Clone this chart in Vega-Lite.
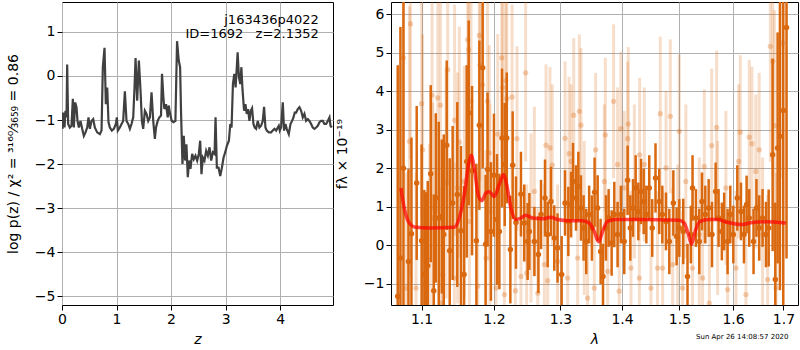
{
"$schema": "https://vega.github.io/schema/vega-lite/v6.json",
"padding": {"left": 5, "top": 1, "right": 1, "bottom": 0},
"bounds": "flush",
"spacing": 58,
"config": {
  "font": "DejaVu Sans",
  "view": {"stroke": "black", "strokeWidth": 1},
  "axis": {"domain": false, "grid": true, "gridColor": "#b0b0b0", "gridWidth": 1, "tickColor": "black", "tickSize": 5, "labelFontSize": 14, "labelColor": "black", "titleFontSize": 14, "titleFontWeight": "normal", "titleColor": "black", "labelPadding": 2, "labelFlush": false}
},
"title": {"text": "Sun Apr 26 14:08:57 2020", "orient": "bottom", "anchor": "end", "fontSize": 7, "fontWeight": "normal", "offset": -14, "dx": -10, "color": "black"},
"datasets": {
"pz": [
{"z":0.009,"lp":-1.20},{"z":0.021,"lp":-0.83},{"z":0.046,"lp":-1.17},{"z":0.064,"lp":-0.79},{"z":0.083,"lp":-0.94},{"z":0.095,"lp":0.26},{"z":0.113,"lp":-1.09},{"z":0.144,"lp":-1.17},{"z":0.174,"lp":-1.13},{"z":0.199,"lp":-0.52},{"z":0.217,"lp":-1.17},{"z":0.242,"lp":-0.60},{"z":0.266,"lp":-0.71},{"z":0.284,"lp":-1.02},{"z":0.309,"lp":-1.17},{"z":0.339,"lp":-1.02},{"z":0.370,"lp":-1.20},{"z":0.401,"lp":-1.36},{"z":0.431,"lp":-1.28},{"z":0.462,"lp":-1.17},{"z":0.486,"lp":-0.94},{"z":0.511,"lp":-1.20},{"z":0.541,"lp":-1.02},{"z":0.572,"lp":-0.98},{"z":0.602,"lp":-1.17},{"z":0.645,"lp":-1.28},{"z":0.694,"lp":-1.32},{"z":0.725,"lp":-1.24},{"z":0.749,"lp":0.20},{"z":0.780,"lp":0.64},{"z":0.804,"lp":-0.64},{"z":0.829,"lp":-0.26},{"z":0.853,"lp":-1.05},{"z":0.878,"lp":-1.17},{"z":0.914,"lp":-1.24},{"z":0.951,"lp":-1.20},{"z":0.988,"lp":-1.09},{"z":1.006,"lp":-0.94},{"z":1.024,"lp":-1.24},{"z":1.061,"lp":-1.17},{"z":1.092,"lp":-1.09},{"z":1.122,"lp":-1.02},{"z":1.153,"lp":-0.35},{"z":1.183,"lp":-1.02},{"z":1.214,"lp":-1.09},{"z":1.245,"lp":-1.20},{"z":1.275,"lp":-1.09},{"z":1.306,"lp":-0.94},{"z":1.330,"lp":-0.26},{"z":1.349,"lp":0.41},{"z":1.379,"lp":-0.56},{"z":1.410,"lp":0.35},{"z":1.440,"lp":-0.33},{"z":1.465,"lp":-1.02},{"z":1.489,"lp":-1.20},{"z":1.520,"lp":-0.79},{"z":1.550,"lp":-0.86},{"z":1.581,"lp":-1.02},{"z":1.612,"lp":-0.94},{"z":1.642,"lp":-0.37},{"z":1.673,"lp":-1.02},{"z":1.703,"lp":-1.43},
{"z":1.724,"lp":-1.17},{"z":1.755,"lp":-1.02},{"z":1.785,"lp":-0.94},{"z":1.816,"lp":-0.90},{"z":1.834,"lp":0.05},{"z":1.859,"lp":-0.48},{"z":1.877,"lp":-0.75},{"z":1.908,"lp":-0.64},{"z":1.939,"lp":-0.94},{"z":1.957,"lp":-0.67},{"z":1.982,"lp":-0.86},{"z":2.012,"lp":-1.02},{"z":2.043,"lp":-1.05},{"z":2.080,"lp":-1.02},{"z":2.110,"lp":0.79},{"z":2.141,"lp":0.35},{"z":2.166,"lp":0.20},{"z":2.184,"lp":-0.86},{"z":2.209,"lp":-2.00},{"z":2.233,"lp":-1.36},{"z":2.258,"lp":-1.92},{"z":2.282,"lp":-1.55},{"z":2.307,"lp":-2.30},{"z":2.331,"lp":-1.92},{"z":2.356,"lp":-2.11},{"z":2.387,"lp":-1.77},{"z":2.417,"lp":-1.89},{"z":2.448,"lp":-1.81},{"z":2.479,"lp":-1.92},{"z":2.509,"lp":-1.77},{"z":2.534,"lp":-1.47},{"z":2.558,"lp":-2.23},{"z":2.583,"lp":-1.85},{"z":2.613,"lp":-1.92},{"z":2.644,"lp":-1.70},{"z":2.675,"lp":-1.81},{"z":2.706,"lp":-1.62},{"z":2.736,"lp":-1.92},{"z":2.767,"lp":-1.73},{"z":2.798,"lp":-1.77},{"z":2.816,"lp":-0.94},{"z":2.840,"lp":-2.08},{"z":2.871,"lp":-2.08},{"z":2.902,"lp":-2.27},{"z":2.933,"lp":-2.08},{"z":2.963,"lp":-1.85},{"z":2.994,"lp":-1.73},{"z":3.025,"lp":-1.58},{"z":3.061,"lp":-1.47},{"z":3.086,"lp":-1.09},{"z":3.110,"lp":-1.17},{"z":3.135,"lp":-0.18},{"z":3.160,"lp":0.05},{"z":3.184,"lp":-0.26},{"z":3.209,"lp":0.27},{"z":3.221,"lp":0.54},{"z":3.245,"lp":-0.03},{"z":3.270,"lp":-0.18},{"z":3.290,"lp":0.20},{"z":3.310,"lp":-0.30},
{"z":3.339,"lp":-0.79},{"z":3.364,"lp":-0.64},{"z":3.388,"lp":-0.86},{"z":3.413,"lp":-0.75},{"z":3.437,"lp":-1.02},{"z":3.462,"lp":-0.79},{"z":3.486,"lp":-0.73},{"z":3.511,"lp":-1.09},{"z":3.535,"lp":-1.17},{"z":3.560,"lp":-1.20},{"z":3.590,"lp":-1.02},{"z":3.621,"lp":-1.17},{"z":3.651,"lp":-1.13},{"z":3.682,"lp":-1.02},{"z":3.706,"lp":-0.70},{"z":3.731,"lp":-1.17},{"z":3.755,"lp":-1.24},{"z":3.792,"lp":-1.28},{"z":3.835,"lp":-1.28},{"z":3.865,"lp":-1.24},{"z":3.896,"lp":-1.20},{"z":3.927,"lp":-1.24},{"z":3.957,"lp":-1.17},{"z":3.976,"lp":-1.13},{"z":3.994,"lp":-1.24},{"z":4.018,"lp":-1.17},{"z":4.049,"lp":-0.60},{"z":4.073,"lp":-1.24},{"z":4.098,"lp":-1.09},{"z":4.122,"lp":-1.20},{"z":4.159,"lp":-1.32},{"z":4.190,"lp":-1.09},{"z":4.220,"lp":-1.02},{"z":4.245,"lp":-0.94},{"z":4.269,"lp":-0.83},{"z":4.294,"lp":-0.83},{"z":4.324,"lp":-0.75},{"z":4.355,"lp":-0.71},{"z":4.386,"lp":-0.79},{"z":4.416,"lp":-0.94},{"z":4.446,"lp":-0.86},{"z":4.477,"lp":-1.02},{"z":4.508,"lp":-0.98},{"z":4.538,"lp":-1.02},{"z":4.569,"lp":-1.09},{"z":4.599,"lp":-1.17},{"z":4.630,"lp":-1.20},{"z":4.661,"lp":-1.17},{"z":4.691,"lp":-1.13},{"z":4.722,"lp":-1.05},{"z":4.752,"lp":-1.02},{"z":4.783,"lp":-1.02},{"z":4.813,"lp":-1.09},{"z":4.844,"lp":-1.09},{"z":4.875,"lp":-1.02},{"z":4.905,"lp":-0.94},{"z":4.924,"lp":-1.13},{"z":4.948,"lp":-1.17}
],
"dark": [
{"lam":1.0689,"f":-1.32,"lo":-7.32,"hi":4.68},{"lam":1.0724,"f":-0.33,"lo":-6.33,"hi":5.67},{"lam":1.0763,"f":2.0,"lo":-4,"hi":8},{"lam":1.0828,"f":-0.42,"lo":-2.82,"hi":1.98},{"lam":1.0867,"f":0.3,"lo":-2.2,"hi":2.8},{"lam":1.0936,"f":1.62,"lo":-0.38,"hi":3.62},{"lam":1.1001,"f":0.12,"lo":-2.38,"hi":2.62},{"lam":1.1037,"f":-0.76,"lo":-2.96,"hi":1.44},{"lam":1.1059,"f":-1.02,"lo":-3.42,"hi":1.38},{"lam":1.1082,"f":-0.53,"lo":-2.73,"hi":1.67},{"lam":1.1122,"f":1.86,"lo":-0.44,"hi":4.16},{"lam":1.1163,"f":-1.18,"lo":-3.68,"hi":1.32},{"lam":1.1190,"f":1.23,"lo":-0.97,"hi":3.43},{"lam":1.1230,"f":0.71,"lo":-1.79,"hi":3.21},{"lam":1.1271,"f":0.75,"lo":-1.25,"hi":2.75},{"lam":1.1298,"f":0.28,"lo":-2.32,"hi":2.88},{"lam":1.1338,"f":2.60,"lo":0.40,"hi":4.80},{"lam":1.1379,"f":-0.14,"lo":-2.54,"hi":2.26},{"lam":1.1419,"f":1.10,"lo":-0.90,"hi":3.10},{"lam":1.1483,"f":1.32,"lo":-1.08,"hi":3.72},{"lam":1.1534,"f":0.38,"lo":-1.82,"hi":2.58},{"lam":1.1577,"f":-0.76,"lo":-3.06,"hi":1.54},{"lam":1.1614,"f":2.18,"lo":-0.32,"hi":4.68},{"lam":1.1642,"f":3.44,"lo":1.04,"hi":5.84},{"lam":1.1689,"f":1.94,"lo":-0.26,"hi":4.14},{"lam":1.1750,"f":0.12,"lo":-1.88,"hi":2.12},{"lam":1.1792,"f":3.12,"lo":0.92,"hi":5.32},{"lam":1.1839,"f":4.61,"lo":2.01,"hi":7.21},{"lam":1.1881,"f":0.03,"lo":-1.77,"hi":1.83},{"lam":1.1909,"f":1.97,"lo":-0.03,"hi":3.97},{"lam":1.1957,"f":0.36,"lo":-1.44,"hi":2.16},{"lam":1.2001,"f":1.82,"lo":0.22,"hi":3.42},{"lam":1.2045,"f":0.67,"lo":-1.03,"hi":2.37},{"lam":1.2079,"f":0.36,"lo":-1.14,"hi":1.86},{"lam":1.2118,"f":2.79,"lo":0.99,"hi":4.59},{"lam":1.2157,"f":2.10,"lo":0.50,"hi":3.70},{"lam":1.2187,"f":2.79,"lo":1.09,"hi":4.49},{"lam":1.2240,"f":-0.11,"lo":-1.51,"hi":1.29},{"lam":1.2274,"f":2.08,"lo":0.68,"hi":3.48},{"lam":1.2323,"f":0.59,"lo":-0.61,"hi":1.79},{"lam":1.2397,"f":1.33,"lo":0.23,"hi":2.43},{"lam":1.2446,"f":0.58,"lo":-0.42,"hi":1.58},{"lam":1.2497,"f":0.10,"lo":-0.90,"hi":1.10},
{"lam":1.2523,"f":0.36,"lo":-0.64,"hi":1.36},{"lam":1.2599,"f":0.10,"lo":-0.80,"hi":1.00},{"lam":1.2660,"f":-0.24,"lo":-1.24,"hi":0.76},{"lam":1.2700,"f":0.80,"lo":-0.10,"hi":1.70},{"lam":1.2761,"f":1.23,"lo":0.23,"hi":2.23},{"lam":1.2802,"f":0.28,"lo":-0.57,"hi":1.13},{"lam":1.2853,"f":1.14,"lo":0.24,"hi":2.04},{"lam":1.2904,"f":0.19,"lo":-0.66,"hi":1.04},{"lam":1.2955,"f":-0.07,"lo":-0.97,"hi":0.83},{"lam":1.3019,"f":-0.76,"lo":-1.76,"hi":0.24},{"lam":1.3072,"f":1.10,"lo":0.25,"hi":1.95},{"lam":1.3124,"f":0.62,"lo":-0.28,"hi":1.52},{"lam":1.3167,"f":1.06,"lo":0.21,"hi":1.91},{"lam":1.3198,"f":1.66,"lo":0.66,"hi":2.66},{"lam":1.3246,"f":1.23,"lo":0.38,"hi":2.08},{"lam":1.3283,"f":1.53,"lo":0.63,"hi":2.43},{"lam":1.3325,"f":0.97,"lo":0.12,"hi":1.82},{"lam":1.3367,"f":0.45,"lo":-0.40,"hi":1.30},{"lam":1.3410,"f":0.10,"lo":-0.75,"hi":0.95},{"lam":1.3457,"f":0.80,"lo":0.05,"hi":1.55},{"lam":1.3501,"f":0.45,"lo":-0.40,"hi":1.30},{"lam":1.3545,"f":1.38,"lo":0.48,"hi":2.28},{"lam":1.3595,"f":0.97,"lo":0.12,"hi":1.82},{"lam":1.3644,"f":-0.16,"lo":-1.01,"hi":0.69},{"lam":1.3683,"f":-0.81,"lo":-1.66,"hi":0.04},{"lam":1.3732,"f":0.45,"lo":-0.40,"hi":1.30},{"lam":1.3776,"f":0.71,"lo":-0.04,"hi":1.46},{"lam":1.3826,"f":0.06,"lo":-0.79,"hi":0.91},{"lam":1.3870,"f":0.80,"lo":-0.05,"hi":1.65},{"lam":1.3925,"f":0.28,"lo":-0.57,"hi":1.13},{"lam":1.3980,"f":0.80,"lo":0.05,"hi":1.55},{"lam":1.4037,"f":0.10,"lo":-0.75,"hi":0.95},{"lam":1.4094,"f":1.69,"lo":0.79,"hi":2.59},{"lam":1.4140,"f":0.45,"lo":-0.40,"hi":1.30},{"lam":1.4186,"f":0.97,"lo":0.22,"hi":1.72},{"lam":1.4231,"f":1.49,"lo":0.64,"hi":2.34},{"lam":1.4277,"f":0.88,"lo":0.13,"hi":1.63},{"lam":1.4323,"f":1.40,"lo":0.55,"hi":2.25},{"lam":1.4369,"f":1.14,"lo":0.29,"hi":1.99},{"lam":1.4415,"f":0.80,"lo":0.05,"hi":1.55},{"lam":1.4466,"f":1.49,"lo":0.64,"hi":2.34},{"lam":1.4518,"f":0.45,"lo":-0.30,"hi":1.20},{"lam":1.4575,"f":1.75,"lo":0.85,"hi":2.65},{"lam":1.4641,"f":1.14,"lo":0.29,"hi":1.99},{"lam":1.4695,"f":0.80,"lo":0.05,"hi":1.55},
{"lam":1.4760,"f":0.62,"lo":-0.13,"hi":1.37},{"lam":1.4819,"f":0.10,"lo":-0.75,"hi":0.95},{"lam":1.4891,"f":1.10,"lo":0.25,"hi":1.95},{"lam":1.4950,"f":0.23,"lo":-0.52,"hi":0.98},{"lam":1.4998,"f":0.45,"lo":-0.30,"hi":1.20},{"lam":1.5070,"f":0.36,"lo":-0.49,"hi":1.21},{"lam":1.5147,"f":-0.81,"lo":-1.66,"hi":0.04},{"lam":1.5208,"f":0.28,"lo":-0.47,"hi":1.03},{"lam":1.5239,"f":1.49,"lo":0.64,"hi":2.34},{"lam":1.5301,"f":0.71,"lo":-0.04,"hi":1.46},{"lam":1.5363,"f":0.10,"lo":-0.75,"hi":0.95},{"lam":1.5413,"f":1.14,"lo":0.39,"hi":1.89},{"lam":1.5475,"f":0.80,"lo":0.05,"hi":1.55},{"lam":1.5537,"f":0.97,"lo":0.22,"hi":1.72},{"lam":1.5600,"f":0.28,"lo":-0.57,"hi":1.13},{"lam":1.5668,"f":1.40,"lo":0.65,"hi":2.15},{"lam":1.5724,"f":0.71,"lo":-0.04,"hi":1.46},{"lam":1.5786,"f":0.36,"lo":-0.39,"hi":1.11},{"lam":1.5830,"f":0.62,"lo":-0.13,"hi":1.37},{"lam":1.5895,"f":0.10,"lo":-0.75,"hi":0.95},{"lam":1.5947,"f":0.80,"lo":0.05,"hi":1.55},{"lam":1.6005,"f":0.28,"lo":-0.47,"hi":1.03},{"lam":1.6082,"f":1.23,"lo":0.38,"hi":2.08},{"lam":1.6153,"f":0.88,"lo":0.13,"hi":1.63},{"lam":1.6211,"f":0.28,"lo":-0.47,"hi":1.03},{"lam":1.6263,"f":1.06,"lo":0.31,"hi":1.81},{"lam":1.6315,"f":0.71,"lo":-0.04,"hi":1.46},{"lam":1.6399,"f":0.10,"lo":-0.75,"hi":0.95},{"lam":1.6457,"f":0.97,"lo":0.22,"hi":1.72},{"lam":1.6511,"f":0.45,"lo":-0.40,"hi":1.30},{"lam":1.6578,"f":0.71,"lo":-0.04,"hi":1.46},{"lam":1.6646,"f":0.28,"lo":-0.57,"hi":1.13},{"lam":1.6700,"f":0.45,"lo":-0.55,"hi":1.45},{"lam":1.6780,"f":2.35,"lo":-0.15,"hi":4.85},{"lam":1.6834,"f":-0.89,"lo":-2.89,"hi":1.11},{"lam":1.6881,"f":2.53,"lo":-0.47,"hi":5.53},{"lam":1.6928,"f":2.83,"lo":-1.17,"hi":6.83},{"lam":1.6996,"f":3.5,"lo":-2.5,"hi":9.5},{"lam":1.7063,"f":5.66,"lo":-0.34,"hi":11.66}
],
"light": [
{"lam":1.0763,"f":4.87,"lo":1.37,"hi":8.37},{"lam":1.0798,"f":-1.11,"lo":-4.11,"hi":1.89},{"lam":1.0841,"f":2.70,"lo":-0.80,"hi":6.20},{"lam":1.0854,"f":5.75,"lo":2.25,"hi":9.25},{"lam":1.0927,"f":-1.11,"lo":-4.11,"hi":1.89},{"lam":1.1001,"f":3.68,"lo":0.68,"hi":6.68},{"lam":1.1014,"f":2.48,"lo":-0.52,"hi":5.48},{"lam":1.1104,"f":-0.37,"lo":-3.37,"hi":2.63},{"lam":1.1140,"f":3.90,"lo":0.90,"hi":6.90},{"lam":1.1149,"f":0.71,"lo":-2.29,"hi":3.71},{"lam":1.1217,"f":3.83,"lo":0.83,"hi":6.83},{"lam":1.1253,"f":3.64,"lo":0.64,"hi":6.64},{"lam":1.1262,"f":-1.50,"lo":-4.50,"hi":1.50},{"lam":1.1284,"f":-0.76,"lo":-3.76,"hi":2.24},{"lam":1.1329,"f":1.62,"lo":-1.38,"hi":4.62},{"lam":1.1352,"f":4.56,"lo":1.56,"hi":7.56},{"lam":1.1442,"f":-0.85,"lo":-3.85,"hi":2.15},{"lam":1.1446,"f":3.25,"lo":0.25,"hi":6.25},{"lam":1.1487,"f":1.49,"lo":-1.51,"hi":4.49},{"lam":1.1511,"f":2.68,"lo":-0.32,"hi":5.68},{"lam":1.1581,"f":1.66,"lo":-1.34,"hi":4.66},{"lam":1.1628,"f":5.34,"lo":2.34,"hi":8.34},{"lam":1.1642,"f":5.08,"lo":2.08,"hi":8.08},{"lam":1.1652,"f":0.62,"lo":-2.38,"hi":3.62},{"lam":1.1675,"f":3.74,"lo":0.74,"hi":6.74},{"lam":1.1769,"f":-1.06,"lo":-4.06,"hi":1.94},{"lam":1.1792,"f":5.45,"lo":2.45,"hi":8.45},{"lam":1.1802,"f":4.68,"lo":1.68,"hi":7.68},{"lam":1.1839,"f":4.17,"lo":1.17,"hi":7.17},{"lam":1.1886,"f":-0.33,"lo":-3.13,"hi":2.47},{"lam":1.1909,"f":3.74,"lo":0.94,"hi":6.54},{"lam":1.1933,"f":2.40,"lo":-0.40,"hi":5.20},{"lam":1.1943,"f":0.88,"lo":-1.92,"hi":3.68},{"lam":1.2031,"f":-1.11,"lo":-3.71,"hi":1.49},{"lam":1.2055,"f":2.89,"lo":0.29,"hi":5.49},{"lam":1.2114,"f":4.87,"lo":2.27,"hi":7.47},{"lam":1.2128,"f":4.10,"lo":1.50,"hi":6.70},{"lam":1.2153,"f":-1.28,"lo":-3.88,"hi":1.32},{"lam":1.2172,"f":4.28,"lo":1.68,"hi":6.88},{"lam":1.2187,"f":3.81,"lo":1.21,"hi":6.41},{"lam":1.2265,"f":3.85,"lo":1.45,"hi":6.25},{"lam":1.2314,"f":-1.18,"lo":-3.58,"hi":1.22},{"lam":1.2338,"f":2.77,"lo":0.37,"hi":5.17},{"lam":1.2397,"f":-0.81,"lo":-3.11,"hi":1.49},{"lam":1.2467,"f":4.48,"lo":2.18,"hi":6.78},{"lam":1.2482,"f":-0.72,"lo":-3.02,"hi":1.58},
{"lam":1.2548,"f":0.71,"lo":-1.49,"hi":2.91},{"lam":1.2599,"f":1.40,"lo":-0.80,"hi":3.60},{"lam":1.2650,"f":-1.24,"lo":-3.44,"hi":0.96},{"lam":1.2751,"f":-0.50,"lo":-2.60,"hi":1.60},{"lam":1.2776,"f":2.60,"lo":0.50,"hi":4.70},{"lam":1.2802,"f":-0.92,"lo":-3.02,"hi":1.18},{"lam":1.2837,"f":2.53,"lo":0.43,"hi":4.63},{"lam":1.2873,"f":2.08,"lo":-0.02,"hi":4.18},{"lam":1.2955,"f":-0.42,"lo":-2.42,"hi":1.58},{"lam":1.3072,"f":2.78,"lo":0.78,"hi":4.78},{"lam":1.3114,"f":-0.85,"lo":-2.85,"hi":1.15},{"lam":1.3135,"f":2.38,"lo":0.38,"hi":4.38},{"lam":1.3167,"f":2.18,"lo":0.18,"hi":4.18},{"lam":1.3209,"f":3.38,"lo":1.38,"hi":5.38},{"lam":1.3272,"f":-0.33,"lo":-2.33,"hi":1.67},{"lam":1.3299,"f":3.48,"lo":1.48,"hi":5.48},{"lam":1.3325,"f":3.12,"lo":1.12,"hi":5.12},{"lam":1.3378,"f":0.71,"lo":-1.29,"hi":2.71},{"lam":1.3431,"f":-1.37,"lo":-3.37,"hi":0.63},{"lam":1.3540,"f":-1.11,"lo":-3.11,"hi":0.89},{"lam":1.3562,"f":2.48,"lo":0.48,"hi":4.48},{"lam":1.3705,"f":1.66,"lo":-0.34,"hi":3.66},{"lam":1.3721,"f":2.87,"lo":0.87,"hi":4.87},{"lam":1.3760,"f":-0.68,"lo":-2.68,"hi":1.32},{"lam":1.3858,"f":3.74,"lo":1.74,"hi":5.74},{"lam":1.3925,"f":2.10,"lo":0.10,"hi":4.10},{"lam":1.3952,"f":-1.19,"lo":-3.19,"hi":0.81},{"lam":1.3980,"f":3.03,"lo":1.03,"hi":5.03},{"lam":1.4037,"f":1.49,"lo":-0.51,"hi":3.49},{"lam":1.4094,"f":2.77,"lo":0.77,"hi":4.77},{"lam":1.4105,"f":3.15,"lo":1.15,"hi":5.15},{"lam":1.4151,"f":-0.59,"lo":-2.59,"hi":1.41},{"lam":1.4209,"f":1.66,"lo":-0.34,"hi":3.66},{"lam":1.4294,"f":-0.85,"lo":-2.85,"hi":1.15},{"lam":1.4300,"f":2.35,"lo":0.35,"hi":4.35},{"lam":1.4380,"f":2.10,"lo":0.10,"hi":4.10},{"lam":1.4495,"f":-1.11,"lo":-3.11,"hi":0.89},{"lam":1.4610,"f":-0.59,"lo":-2.59,"hi":1.41},{"lam":1.4659,"f":3.42,"lo":1.42,"hi":5.42},
{"lam":1.4700,"f":-0.59,"lo":-2.59,"hi":1.41},{"lam":1.4760,"f":2.01,"lo":0.01,"hi":4.01},{"lam":1.4837,"f":3.35,"lo":1.35,"hi":5.35},{"lam":1.4879,"f":-0.50,"lo":-2.50,"hi":1.50},{"lam":1.4968,"f":0.10,"lo":-1.90,"hi":2.10},{"lam":1.4998,"f":2.96,"lo":0.96,"hi":4.96},{"lam":1.5058,"f":-1.11,"lo":-3.11,"hi":0.89},{"lam":1.5117,"f":1.66,"lo":-0.34,"hi":3.66},{"lam":1.5239,"f":-0.59,"lo":-2.59,"hi":1.41},{"lam":1.5363,"f":0.28,"lo":-1.72,"hi":2.28},{"lam":1.5425,"f":-0.85,"lo":-2.85,"hi":1.15},{"lam":1.5456,"f":2.05,"lo":0.05,"hi":4.05},{"lam":1.5550,"f":-1.50,"lo":-3.50,"hi":0.50},{"lam":1.5594,"f":2.59,"lo":0.59,"hi":4.59},{"lam":1.5687,"f":3.06,"lo":1.06,"hi":5.06},{"lam":1.5706,"f":0.71,"lo":-1.29,"hi":2.71},{"lam":1.5863,"f":1.49,"lo":-0.51,"hi":3.49},{"lam":1.5895,"f":-1.15,"lo":-3.15,"hi":0.85},{"lam":1.6056,"f":-0.59,"lo":-2.59,"hi":1.41},{"lam":1.6108,"f":2.18,"lo":0.18,"hi":4.18},{"lam":1.6140,"f":2.94,"lo":0.94,"hi":4.94},{"lam":1.6250,"f":-1.28,"lo":-3.28,"hi":0.72},{"lam":1.6315,"f":2.81,"lo":0.81,"hi":4.81},{"lam":1.6367,"f":2.64,"lo":0.64,"hi":4.64},{"lam":1.6444,"f":1.92,"lo":-0.08,"hi":3.92},{"lam":1.6511,"f":2.48,"lo":0.48,"hi":4.48},{"lam":1.6578,"f":0.28,"lo":-1.72,"hi":2.28},{"lam":1.6680,"f":-0.89,"lo":-3.09,"hi":1.31},{"lam":1.6734,"f":5.17,"lo":2.17,"hi":8.17},{"lam":1.6782,"f":4.78,"lo":1.78,"hi":7.78},{"lam":1.6815,"f":3.11,"lo":0.11,"hi":6.11},{"lam":1.6849,"f":-1.11,"lo":-4.11,"hi":1.89},{"lam":1.6983,"f":5.25,"lo":1.75,"hi":8.75}
],
"model": [
{"lam":1.0730,"f":1.49},{"lam":1.0773,"f":0.97},{"lam":1.0838,"f":0.58},{"lam":1.0925,"f":0.47},{"lam":1.1103,"f":0.45},{"lam":1.1441,"f":0.47},{"lam":1.1510,"f":0.71},{"lam":1.1580,"f":1.32},{"lam":1.1640,"f":2.10},{"lam":1.1677,"f":2.34},{"lam":1.1719,"f":2.01},{"lam":1.1781,"f":1.27},{"lam":1.1829,"f":1.16},{"lam":1.1885,"f":1.36},{"lam":1.1933,"f":1.39},{"lam":1.2005,"f":1.27},{"lam":1.2077,"f":1.58},{"lam":1.2141,"f":1.84},{"lam":1.2185,"f":1.58},{"lam":1.2248,"f":0.97},{"lam":1.2322,"f":0.67},{"lam":1.2397,"f":0.71},{"lam":1.2471,"f":0.78},{"lam":1.2572,"f":0.71},{"lam":1.2724,"f":0.69},{"lam":1.2852,"f":0.73},{"lam":1.2955,"f":0.67},{"lam":1.3139,"f":0.64},{"lam":1.3351,"f":0.64},{"lam":1.3458,"f":0.58},{"lam":1.3540,"f":0.36},{"lam":1.3610,"f":0.09},{"lam":1.3676,"f":0.36},{"lam":1.3759,"f":0.62},{"lam":1.3897,"f":0.67},{"lam":1.4290,"f":0.67},{"lam":1.4996,"f":0.65},{"lam":1.5086,"f":0.58},{"lam":1.5165,"f":0.28},{"lam":1.5220,"f":0.03},{"lam":1.5287,"f":0.36},{"lam":1.5373,"f":0.62},{"lam":1.5546,"f":0.67},{"lam":1.5702,"f":0.67},{"lam":1.5860,"f":0.61},{"lam":1.6181,"f":0.54},{"lam":1.6312,"f":0.58},{"lam":1.6646,"f":0.61},{"lam":1.7050,"f":0.58}
]
},
"hconcat": [
{
  "width": 271, "height": 303,
  "layer": [
    {"data": {"name": "pz"},
     "mark": {"type": "line", "color": "#404040", "strokeWidth": 2.2, "clip": true},
     "encoding": {
       "x": {"field": "z", "type": "quantitative", "scale": {"domain": [0, 4.97], "nice": false, "zero": false}, "axis": {"values": [0,1,2,3,4], "title": "z", "titleFontStyle": "italic", "titlePadding": 6}},
       "y": {"field": "lp", "type": "quantitative", "scale": {"domain": [-5.2, 1.68], "nice": false, "zero": false}, "axis": {"values": [-5,-4,-3,-2,-1,0,1], "title": "log p(z) / χ² = ³¹⁶⁰⁄₃₆₅₉ = 0.86", "titlePadding": 14}}
     }},
    {"data": {"values": [{}]},
     "mark": {"type": "text", "align": "right", "baseline": "middle", "fontSize": 13, "lineHeight": 14, "color": "black", "text": ["j163436p4022", "ID=1692\u00a0\u00a0\u00a0z=2.1352"]},
     "encoding": {"x": {"datum": 4.71}, "y": {"datum": 1.26}}}
  ]
},
{
  "width": 407, "height": 303,
  "encoding": {
    "x": {"field": "lam", "type": "quantitative", "scale": {"type": "log", "domain": [1.0603, 1.73], "nice": false}, "axis": {"values": [1.1,1.2,1.3,1.4,1.5,1.6,1.7], "format": ".1f", "title": "λ", "titleFontStyle": "italic", "titlePadding": 6}},
    "y": {"field": "f", "type": "quantitative", "scale": {"domain": [-1.55, 6.32], "nice": false, "zero": false}, "axis": {"values": [-1,0,1,2,3,4,5,6], "title": "fλ × 10⁻¹⁹", "titlePadding": 14}}
  },
  "layer": [
    {"data": {"name": "light"}, "mark": {"type": "rule", "color": "#d9680f", "opacity": 0.22, "strokeWidth": 3, "clip": true}, "encoding": {"y": {"field": "lo", "type": "quantitative"}, "y2": {"field": "hi"}}},
    {"data": {"name": "light"}, "mark": {"type": "point", "filled": true, "color": "#d9680f", "opacity": 0.3, "size": 28, "clip": true}},
    {"data": {"name": "dark"}, "mark": {"type": "rule", "color": "#d9680f", "strokeWidth": 2.5, "clip": true}, "encoding": {"y": {"field": "lo", "type": "quantitative"}, "y2": {"field": "hi"}}},
    {"data": {"name": "dark"}, "mark": {"type": "point", "filled": true, "color": "#d9680f", "opacity": 1, "size": 30, "clip": true}},
    {"data": {"values": [{}]}, "mark": {"type": "rule", "color": "black", "strokeDash": [2, 3], "strokeWidth": 2}, "encoding": {"x": null, "y": {"datum": 0}}},
    {"data": {"name": "model"}, "mark": {"type": "line", "color": "red", "opacity": 0.7, "strokeWidth": 3.5, "interpolate": "monotone", "clip": true}}
  ]
}
]
}
